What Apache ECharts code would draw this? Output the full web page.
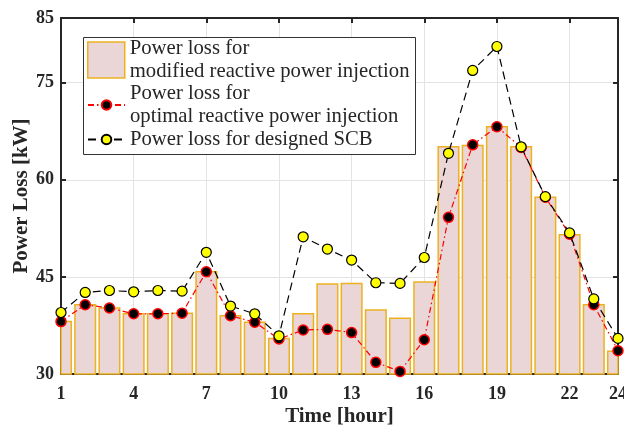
<!DOCTYPE html>
<html>
<head>
<meta charset="utf-8">
<script src="https://cdn.jsdelivr.net/npm/echarts@6/dist/echarts.min.js"></script>
<style>
  html, body { margin: 0; padding: 0; background: #fff; }
  #chart { width: 624px; height: 428px; }
</style>
</head>
<body>
<div id="chart"></div>
<script>
// Hourly power loss (kW) over a day
const hours = [1,2,3,4,5,6,7,8,9,10,11,12,13,14,15,16,17,18,19,20,21,22,23,24];
const modifiedLoss = [38.1,40.7,40.2,39.3,39.3,39.4,45.8,39.0,38.0,35.5,39.3,43.9,44.0,39.9,38.6,44.2,65.1,65.3,68.2,65.1,57.3,51.5,40.7,33.5];
const optimalLoss  = [38.1,40.7,40.2,39.3,39.3,39.4,45.8,39.0,38.0,35.4,36.8,36.9,36.4,31.8,30.4,35.3,54.2,65.4,68.2,65.0,57.3,51.6,40.7,33.6];
const scbLoss      = [39.5,42.6,42.9,42.7,42.9,42.8,48.8,40.5,39.3,35.9,51.2,49.3,47.6,44.1,44.0,48.0,64.1,76.9,80.6,65.1,57.4,51.8,41.6,35.5];

const seriesNames = [
  'Power loss for\nmodified reactive power injection',
  'Power loss for\noptimal reactive power injection',
  'Power loss for designed SCB'
];

const pair = (xs, ys) => xs.map((x, i) => [x, ys[i]]);

const serif = 'Liberation Serif, Times New Roman, serif';
const ink = '#262626';
const barFill = '#ead6d6';
const barEdge = '#edb120';

const chart = echarts.init(document.getElementById('chart'), null, { renderer: 'canvas' });

const axisCommon = {
  axisLine: { show: true, onZero: false, lineStyle: { color: ink, width: 2 } },
  axisTick: { show: true, inside: true, length: 5, lineStyle: { color: ink, width: 2 } },
};

// Bars drawn as rectangles on the value axis, clipped to the plot area
function renderBar(params, api) {
  const x = api.value(0);
  const y = api.value(1);
  const cs = params.coordSys;
  const top = api.coord([x, y]);
  const w = api.size([0.85, 0])[0];
  const rect = echarts.graphic.clipRectByRect(
    { x: top[0] - w / 2, y: top[1], width: w, height: cs.y + cs.height - top[1] },
    { x: cs.x, y: cs.y, width: cs.width, height: cs.height }
  );
  if (!rect) return null;
  return {
    type: 'rect',
    shape: rect,
    style: { fill: barFill, stroke: barEdge, lineWidth: 1.5 }
  };
}

chart.setOption({
  animation: false,
  backgroundColor: '#fff',
  grid: { left: 61, right: 6, top: 18, bottom: 54, containLabel: false, outerBoundsMode: 'none' },
  xAxis: [
    Object.assign({
      type: 'value', min: 1, max: 24, interval: 3,
      name: 'Time [hour]', nameLocation: 'middle', nameGap: 32, nameMoveOverlap: false,
      nameTextStyle: { fontFamily: serif, fontWeight: 'bold', fontSize: 21, color: ink },
      axisLabel: { fontFamily: serif, fontWeight: 'bold', fontSize: 18, color: ink, margin: 11 },
      splitLine: { show: true, lineStyle: { color: '#e3e3e3', width: 1 } },
    }, axisCommon),
    Object.assign({
      type: 'value', min: 1, max: 24, interval: 3, position: 'top',
      axisLabel: { show: false }, splitLine: { show: false },
    }, axisCommon)
  ],
  yAxis: [
    Object.assign({
      type: 'value', min: 30, max: 85, interval: 15,
      name: 'Power Loss [kW]', nameLocation: 'middle', nameGap: 29, nameMoveOverlap: false,
      nameTextStyle: { fontFamily: serif, fontWeight: 'bold', fontSize: 21, color: ink },
      axisLabel: { fontFamily: serif, fontWeight: 'bold', fontSize: 18, color: ink, margin: 7 },
      splitLine: { show: true, lineStyle: { color: '#e3e3e3', width: 1 } },
    }, axisCommon),
    Object.assign({
      type: 'value', min: 30, max: 85, interval: 15, position: 'right',
      axisLabel: { show: false }, splitLine: { show: false },
    }, axisCommon)
  ],
  legend: [
    {
      data: [{ name: seriesNames[0], icon: 'rect' }],
      left: 87, top: 37, padding: 0,
      itemWidth: 37, itemHeight: 36, itemGap: 0,
      itemStyle: { color: barFill, borderColor: barEdge, borderWidth: 1.5 },
      textStyle: { fontFamily: serif, fontSize: 20.7, color: ink, lineHeight: 23 },
      selectedMode: false
    },
    {
      data: [seriesNames[1], seriesNames[2]],
      orient: 'vertical',
      left: 87, top: 82, padding: 0,
      itemWidth: 37, itemHeight: 12, itemGap: 0,
      textStyle: { fontFamily: serif, fontSize: 20.7, color: ink, lineHeight: 23 },
      selectedMode: false
    }
  ],
  graphic: [{
    type: 'rect', z: 3,
    shape: { x: 83.5, y: 37.5, width: 332, height: 117 },
    style: { fill: '#fff', stroke: '#333', lineWidth: 1 }
  }],
  series: [
    {
      name: seriesNames[0],
      type: 'custom',
      renderItem: renderBar,
      data: pair(hours, modifiedLoss),
      encode: { x: 0, y: 1 },
      itemStyle: { color: barFill, borderColor: barEdge, borderWidth: 1.5 },
      z: 1
    },
    {
      name: seriesNames[1],
      type: 'line',
      data: pair(hours, optimalLoss),
      clip: false,
      symbol: 'circle', symbolSize: 10,
      lineStyle: { color: '#ff0000', width: 1.2, type: [6, 3, 1.5, 3] },
      itemStyle: { color: '#000', borderColor: '#ff0000', borderWidth: 1.5 },
      z: 3
    },
    {
      name: seriesNames[2],
      type: 'line',
      data: pair(hours, scbLoss),
      clip: false,
      symbol: 'circle', symbolSize: 10,
      lineStyle: { color: '#000', width: 1.2, type: [8, 5] },
      itemStyle: { color: '#ffff00', borderColor: '#000', borderWidth: 1.2 },
      z: 4
    }
  ]
});
</script>
</body>
</html>
